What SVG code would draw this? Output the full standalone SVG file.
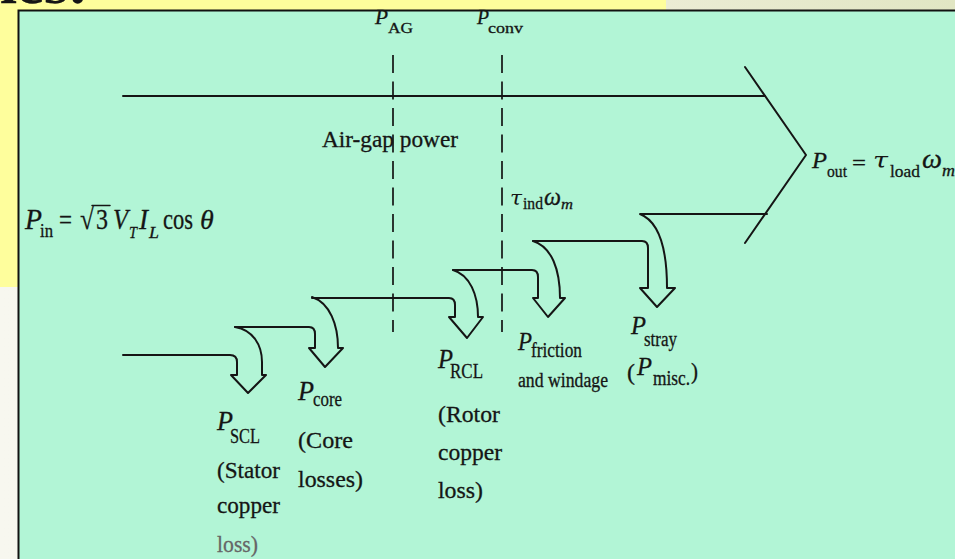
<svg xmlns="http://www.w3.org/2000/svg" width="955" height="559" viewBox="0 0 955 559">
<defs>
<style>
.ln{fill:none;stroke:#151515;stroke-width:2;stroke-linejoin:round;stroke-linecap:round}
.dash{fill:none;stroke:#151515;stroke-width:1.7;stroke-dasharray:18 8.5}
text{font-family:"Liberation Serif","DejaVu Serif",serif;fill:#151515;stroke:#151515;stroke-width:0.3}
.it{font-style:italic}
.tau{font-family:"DejaVu Serif","Liberation Serif",serif;font-style:italic;stroke-width:0}
.grey{fill:#666;stroke:#666}
</style>
<linearGradient id="beige" x1="0" y1="0" x2="1" y2="0">
<stop offset="0" stop-color="#ebecd4"/>
<stop offset="1" stop-color="#e1e6c3"/>
</linearGradient>
<linearGradient id="white" x1="0" y1="0" x2="1" y2="0">
<stop offset="0" stop-color="#f7f7ef"/>
<stop offset="1" stop-color="#eeeee3"/>
</linearGradient>
</defs>
<g id="background">
<rect x="0" y="0" width="955" height="559" fill="url(#white)"/>
<rect x="0" y="0" width="666" height="12" fill="#fefe9c"/>
<rect x="666" y="0" width="289" height="12" fill="url(#beige)"/>
<rect x="0" y="0" width="19" height="287" fill="#fefe9c"/>
<text x="0" y="3" font-size="52" font-weight="bold" textLength="88" lengthAdjust="spacingAndGlyphs">ies:</text>
<rect x="18.5" y="10.5" width="945" height="560" fill="#b2f5d6" stroke="#111" stroke-width="2"/>
</g>
<g id="connectors">
<path class="ln" d="M123 96 L765 96"/>
<path class="ln" d="M745 67 L806 155 L745 243"/>
<path class="dash" d="M393 55 L393 332"/>
<path class="dash" d="M502 55 L502 332"/>
<path id="arrow-scl" class="ln" d="M123 355 L230 355 Q237 355 237 362 L237 375 L231 375 L248 393 L266 375 L262 375 L262 362 C262 345 253 330 235 327"/>
<path id="arrow-core" class="ln" d="M235 327 L309 327 Q315 327 315 334 L315 348 L309 348 L325 367 L343 348 L338 348 C338 325 330 303 312 297"/>
<path id="arrow-rcl" class="ln" d="M312 298 L449 298 Q455 298 455 305 L455 317 L449 317 L467 338 L483 317 L478 317 C478 295 470 275 453 270"/>
<path id="arrow-friction" class="ln" d="M453 270 L532 270 Q538 270 538 277 L538 298 L533 298 L548 317 L565 298 L560 298 C560 270 552 247 533 241"/>
<path id="arrow-stray" class="ln" d="M533 241 L642 241 Q648 241 648 248 L648 288 L640 288 L657 307 L675 288 L667 288 C667 250 660 222 640 214 L767 214"/>
</g>
<g id="pin">
<text class="it" x="25" y="229" font-size="30" textLength="17" lengthAdjust="spacingAndGlyphs">P</text>
<text x="40" y="237" font-size="19" textLength="13" lengthAdjust="spacingAndGlyphs">in</text>
<text x="59" y="229" font-size="28" textLength="13" lengthAdjust="spacingAndGlyphs">=</text>
<text x="80" y="229" font-size="30" textLength="14" lengthAdjust="spacingAndGlyphs">√</text>
<path class="ln" style="stroke-width:1.5" d="M92 205.5 L110 205.5"/>
<text x="96" y="229" font-size="30" textLength="12" lengthAdjust="spacingAndGlyphs">3</text>
<text class="it" x="113" y="229" font-size="30" textLength="15" lengthAdjust="spacingAndGlyphs">V</text>
<text class="it" x="129" y="238" font-size="17" textLength="8" lengthAdjust="spacingAndGlyphs">T</text>
<text class="it" x="139" y="229" font-size="30" textLength="9" lengthAdjust="spacingAndGlyphs">I</text>
<text class="it" x="149" y="238" font-size="17" textLength="10" lengthAdjust="spacingAndGlyphs">L</text>
<text x="163" y="229" font-size="30" textLength="30" lengthAdjust="spacingAndGlyphs">cos</text>
<text class="it" x="200" y="229" font-size="28">θ</text>
</g>
<g id="pag">
<text class="it" x="375" y="24" font-size="20" textLength="13" lengthAdjust="spacingAndGlyphs">P</text>
<text x="388" y="33" font-size="14" textLength="25" lengthAdjust="spacingAndGlyphs">AG</text>
</g>
<g id="pconv">
<text class="it" x="477" y="24" font-size="20" textLength="12" lengthAdjust="spacingAndGlyphs">P</text>
<text x="488" y="33" font-size="15" textLength="35" lengthAdjust="spacingAndGlyphs">conv</text>
</g>
<g id="airgap">
<text x="322" y="147" font-size="24" textLength="136" lengthAdjust="spacingAndGlyphs">Air-gap power</text>
</g>
<g id="tind">
<text class="tau" x="510" y="205" font-size="21" textLength="12" lengthAdjust="spacingAndGlyphs">τ</text>
<text x="523" y="209" font-size="16" textLength="20" lengthAdjust="spacingAndGlyphs">ind</text>
<text class="it" x="544" y="205" font-size="26" textLength="17" lengthAdjust="spacingAndGlyphs">ω</text>
<text class="it" x="561" y="209" font-size="15" textLength="12" lengthAdjust="spacingAndGlyphs">m</text>
</g>
<g id="pout">
<text class="it" x="812" y="168" font-size="24" textLength="15" lengthAdjust="spacingAndGlyphs">P</text>
<text x="827" y="177" font-size="17" textLength="20" lengthAdjust="spacingAndGlyphs">out</text>
<text x="852" y="170" font-size="22" textLength="14" lengthAdjust="spacingAndGlyphs">=</text>
<text class="tau" x="873" y="168" font-size="23" textLength="15" lengthAdjust="spacingAndGlyphs">τ</text>
<text x="890" y="177" font-size="17" textLength="30" lengthAdjust="spacingAndGlyphs">load</text>
<text class="it" x="922" y="168" font-size="27" textLength="20" lengthAdjust="spacingAndGlyphs">ω</text>
<text class="it" x="942" y="176" font-size="16" textLength="13" lengthAdjust="spacingAndGlyphs">m</text>
</g>
<g id="pscl">
<text class="it" x="217" y="430" font-size="28" textLength="16" lengthAdjust="spacingAndGlyphs">P</text>
<text x="230" y="443" font-size="21" textLength="30" lengthAdjust="spacingAndGlyphs">SCL</text>
<text x="217" y="478" font-size="24" textLength="63" lengthAdjust="spacingAndGlyphs">(Stator</text>
<text x="217" y="513" font-size="24" textLength="63" lengthAdjust="spacingAndGlyphs">copper</text>
<text class="grey" x="217" y="552" font-size="24" textLength="41" lengthAdjust="spacingAndGlyphs">loss)</text>
</g>
<g id="pcore">
<text class="it" x="298" y="400" font-size="28" textLength="16" lengthAdjust="spacingAndGlyphs">P</text>
<text x="313" y="406" font-size="21" textLength="29" lengthAdjust="spacingAndGlyphs">core</text>
<text x="298" y="448" font-size="24" textLength="55" lengthAdjust="spacingAndGlyphs">(Core</text>
<text x="298" y="487" font-size="24" textLength="65" lengthAdjust="spacingAndGlyphs">losses)</text>
</g>
<g id="prcl">
<text class="it" x="438" y="368" font-size="28" textLength="15" lengthAdjust="spacingAndGlyphs">P</text>
<text x="450" y="378" font-size="21" textLength="33" lengthAdjust="spacingAndGlyphs">RCL</text>
<text x="438" y="422" font-size="24" textLength="62" lengthAdjust="spacingAndGlyphs">(Rotor</text>
<text x="438" y="460" font-size="24" textLength="64" lengthAdjust="spacingAndGlyphs">copper</text>
<text x="438" y="498" font-size="24" textLength="45" lengthAdjust="spacingAndGlyphs">loss)</text>
</g>
<g id="pfriction">
<text class="it" x="518" y="350" font-size="26" textLength="14" lengthAdjust="spacingAndGlyphs">P</text>
<text x="531" y="357" font-size="20" textLength="51" lengthAdjust="spacingAndGlyphs">friction</text>
<text x="518" y="387" font-size="20" textLength="90" lengthAdjust="spacingAndGlyphs">and windage</text>
</g>
<g id="pstray">
<text class="it" x="631" y="334" font-size="26" textLength="15" lengthAdjust="spacingAndGlyphs">P</text>
<text x="644" y="346" font-size="20" textLength="33" lengthAdjust="spacingAndGlyphs">stray</text>
<text x="627" y="380" font-size="24" textLength="8" lengthAdjust="spacingAndGlyphs">(</text>
<text class="it" x="637" y="375" font-size="26" textLength="15" lengthAdjust="spacingAndGlyphs">P</text>
<text x="653" y="385" font-size="20" textLength="37" lengthAdjust="spacingAndGlyphs">misc.</text>
<text x="691" y="379" font-size="24" textLength="7" lengthAdjust="spacingAndGlyphs">)</text>
</g>
</svg>
